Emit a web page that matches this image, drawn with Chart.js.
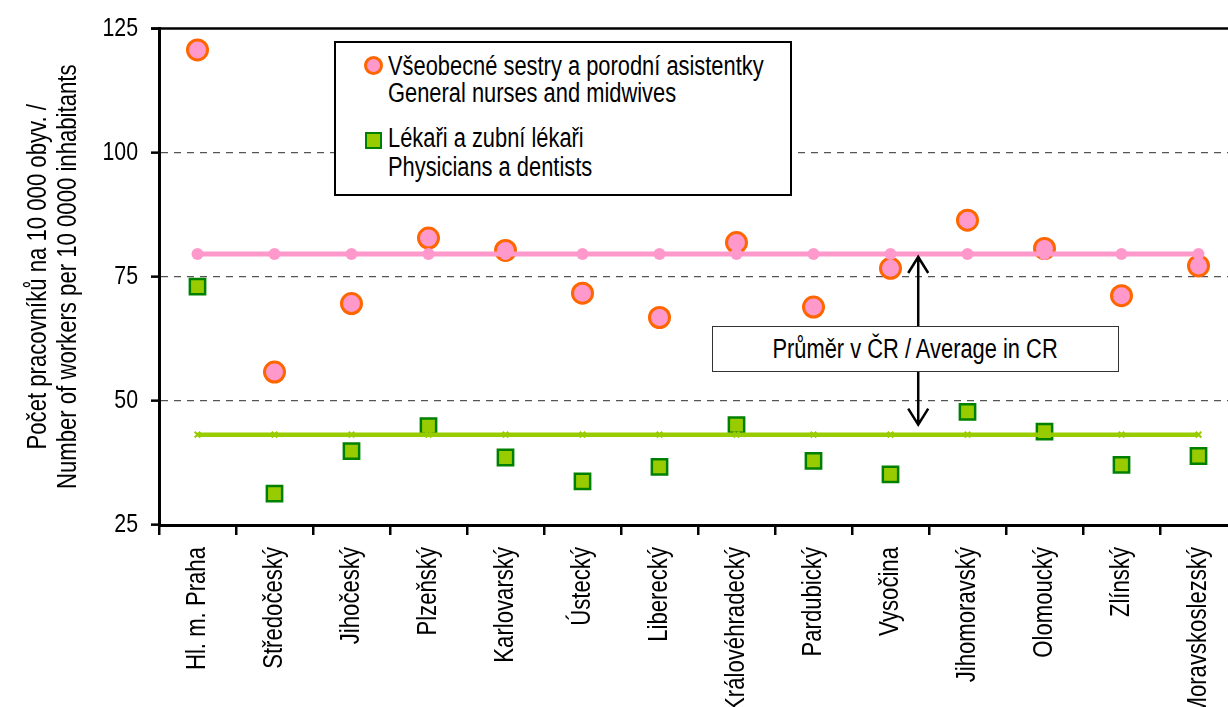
<!DOCTYPE html>
<html lang="cs">
<head>
<meta charset="UTF-8">
<title>Pracovníci na 10 000 obyvatel podle krajů</title>
<script src="https://cdn.jsdelivr.net/npm/chart.js"></script>
<style>
    body { margin: 0; overflow: hidden; background: #fff; font-family: 'Liberation Sans', Arial, sans-serif; }
    #wrap { position: relative; width: 1237px; height: 707px; }
    #legendBox {
        position: absolute; left: 334px; top: 41px; width: 454px; height: 151px;
        border: 2px solid #000; background: #fff;
    }
    /* Arial Narrow look: regular face squeezed sideways */
    .lg { position: absolute; left: 52px; font-size: 27px; line-height: 27px; white-space: nowrap; color: #000;
          transform: scaleX(0.81); transform-origin: 0 50%; }
    .mk { position: absolute; box-sizing: border-box; }
    #noteBox {
        position: absolute; left: 712px; top: 326px; width: 405px; height: 44px;
        border: 1.5px solid #333; background: #fff; text-align: center;
        font-size: 27px; line-height: 44px; color: #000; white-space: nowrap;
    }
    #noteBox span { display: inline-block; transform: scaleX(0.81); }
</style>
</head>
<body>
<div id="wrap">
    <canvas id="chart" width="1237" height="707"></canvas>
    <div id="legendBox">
        <div class="mk" style="left:28px; top:13px; width:19px; height:19px; border-radius:50%; background:#FF99CC; border:3px solid #FF6600;"></div>
        <div class="lg" style="top:10px;">Všeobecné sestry a porodní asistentky</div>
        <div class="lg" style="top:37px;">General nurses and midwives</div>
        <div class="mk" style="left:29px; top:89px; width:17px; height:17px; background:#99CC00; border:2.5px solid #008000;"></div>
        <div class="lg" style="top:82px;">Lékaři a zubní lékaři</div>
        <div class="lg" style="top:111px;">Physicians a dentists</div>
    </div>
    <div id="noteBox"><span>Průměr v ČR / Average in CR</span></div>
</div>

<script>
    const regions = ['Hl. m. Praha', 'Středočeský', 'Jihočeský', 'Plzeňský', 'Karlovarský', 'Ústecký',
        'Liberecký', 'Královéhradecký', 'Pardubický', 'Vysočina', 'Jihomoravský', 'Olomoucký',
        'Zlínský', 'Moravskoslezský'];

    // values
    const nurses     = [120.7, 55.8, 69.6, 82.8, 80.3, 71.7, 66.8, 81.9, 68.9, 76.7, 86.4, 80.7, 71.2, 77.2];
    const physicians = [73.0, 31.3, 39.9, 44.9, 38.6, 33.8, 36.7, 45.1, 37.9, 35.2, 47.8, 43.8, 37.1, 38.9];
    const avgNurses = 79.6;
    const avgPhysicians = 43.2;

    const yTicks = [25, 50, 75, 100, 125];

    const fontFam = "'Liberation Sans', Arial, sans-serif";

    const canvas = document.getElementById('chart');
    const c2d = canvas.getContext('2d');
    // no Arial Narrow installed -> squeeze every canvas string to ~82% width
    const origFill = c2d.fillText.bind(c2d);
    c2d.fillText = function (text, x, y, maxW) {
        const w = this.measureText(text).width * 0.82;
        origFill(text, x, y, maxW !== undefined ? Math.min(w, maxW) : w);
    };

    // top frame line + arrow between the two averages
    const extras = {
        id: 'extras',
        afterDraw(chart) {
            const ctx = chart.ctx;
            const area = chart.chartArea;
            const x = chart.scales.x;
            const y = chart.scales.y;
            ctx.save();
            ctx.strokeStyle = '#000';
            ctx.lineWidth = 2.5;
            ctx.beginPath();
            ctx.moveTo(area.left - 8, area.top);
            ctx.lineTo(area.right, area.top);
            ctx.stroke();

            const ax = x.getPixelForValue(9) + 0.36 * (x.getPixelForValue(10) - x.getPixelForValue(9));
            const top = y.getPixelForValue(avgNurses) + 3;
            const bot = y.getPixelForValue(avgPhysicians) - 10;
            ctx.lineWidth = 2.5;
            ctx.beginPath();
            ctx.moveTo(ax, top);
            ctx.lineTo(ax, bot);
            ctx.moveTo(ax - 10, top + 16);
            ctx.lineTo(ax, top);
            ctx.lineTo(ax + 10, top + 16);
            ctx.moveTo(ax - 10, bot - 16);
            ctx.lineTo(ax, bot);
            ctx.lineTo(ax + 10, bot - 16);
            ctx.stroke();
            ctx.restore();
        }
    };

    new Chart(c2d, {
        type: 'line',
        data: {
            labels: regions,
            datasets: [
                {
                    label: 'Průměr sestry',
                    data: regions.map(() => avgNurses),
                    borderColor: '#FF99CC',
                    backgroundColor: '#FF99CC',
                    borderWidth: 5,
                    pointRadius: 6,
                    pointBorderWidth: 0,
                    order: 0
                },
                {
                    label: 'Průměr lékaři',
                    data: regions.map(() => avgPhysicians),
                    borderColor: '#99CC00',
                    backgroundColor: '#99CC00',
                    borderWidth: 4.5,
                    pointStyle: 'crossRot',
                    pointRadius: 4,
                    pointBorderWidth: 2,
                    order: 0
                },
                {
                    label: 'Všeobecné sestry a porodní asistentky',
                    data: nurses,
                    showLine: false,
                    pointStyle: 'circle',
                    pointRadius: 10,
                    pointBackgroundColor: '#FF99CC',
                    pointBorderColor: '#FF6600',
                    pointBorderWidth: 3,
                    order: 1
                },
                {
                    label: 'Lékaři a zubní lékaři',
                    data: physicians,
                    showLine: false,
                    pointStyle: 'rect',
                    pointRadius: 10.8,
                    pointBackgroundColor: '#99CC00',
                    pointBorderColor: '#008000',
                    pointBorderWidth: 2.5,
                    order: 1
                }
            ]
        },
        options: {
            responsive: false,
            animation: false,
            devicePixelRatio: 1,
            layout: { autoPadding: false, padding: { top: 26, right: 0, left: 0, bottom: 0 } },
            plugins: {
                legend: { display: false },
                tooltip: { enabled: false }
            },
            scales: {
                x: {
                    type: 'category',
                    offset: true,
                    grid: {
                        offset: true,
                        drawOnChartArea: false,
                        color: '#000',
                        tickLength: 10,
                        lineWidth: 2.5
                    },
                    border: { color: '#000', width: 3 },
                    ticks: {
                        autoSkip: false,
                        maxRotation: 90,
                        minRotation: 90,
                        padding: 12,
                        color: '#000',
                        font: { family: fontFam, size: 27 }
                    },
                    afterFit(scale) {
                        scale.height = 182;
                        scale.paddingLeft = 0;
                        scale.paddingRight = 0;
                    }
                },
                y: {
                    min: 25,
                    max: 125,
                    afterBuildTicks(scale) { scale.ticks = yTicks.map(v => ({ value: v })); },
                    grid: {
                        color: ctx => (ctx.tick && (ctx.tick.value === 125 || ctx.tick.value === 25)) ? 'rgba(0,0,0,0)' : '#555',
                        lineWidth: 1.3,
                        tickLength: 8,
                        tickColor: '#000',
                        tickWidth: 2.5,
                        tickBorderDash: []
                    },
                    border: { color: '#000', width: 3, dash: [7, 6] },
                    ticks: {
                        padding: 13,
                        color: '#000',
                        font: { family: fontFam, size: 26 }
                    },
                    title: {
                        display: true,
                        text: ['Počet pracovníků na 10 000 obyv. /', 'Number of workers per 10 0000 inhabitants'],
                        color: '#000',
                        font: { family: fontFam, size: 27, lineHeight: 1.1 },
                        padding: { top: 24, bottom: 0 }
                    },
                    afterFit(scale) { scale.width = 159; }
                }
            }
        },
        plugins: [extras]
    });
</script>
</body>
</html>
